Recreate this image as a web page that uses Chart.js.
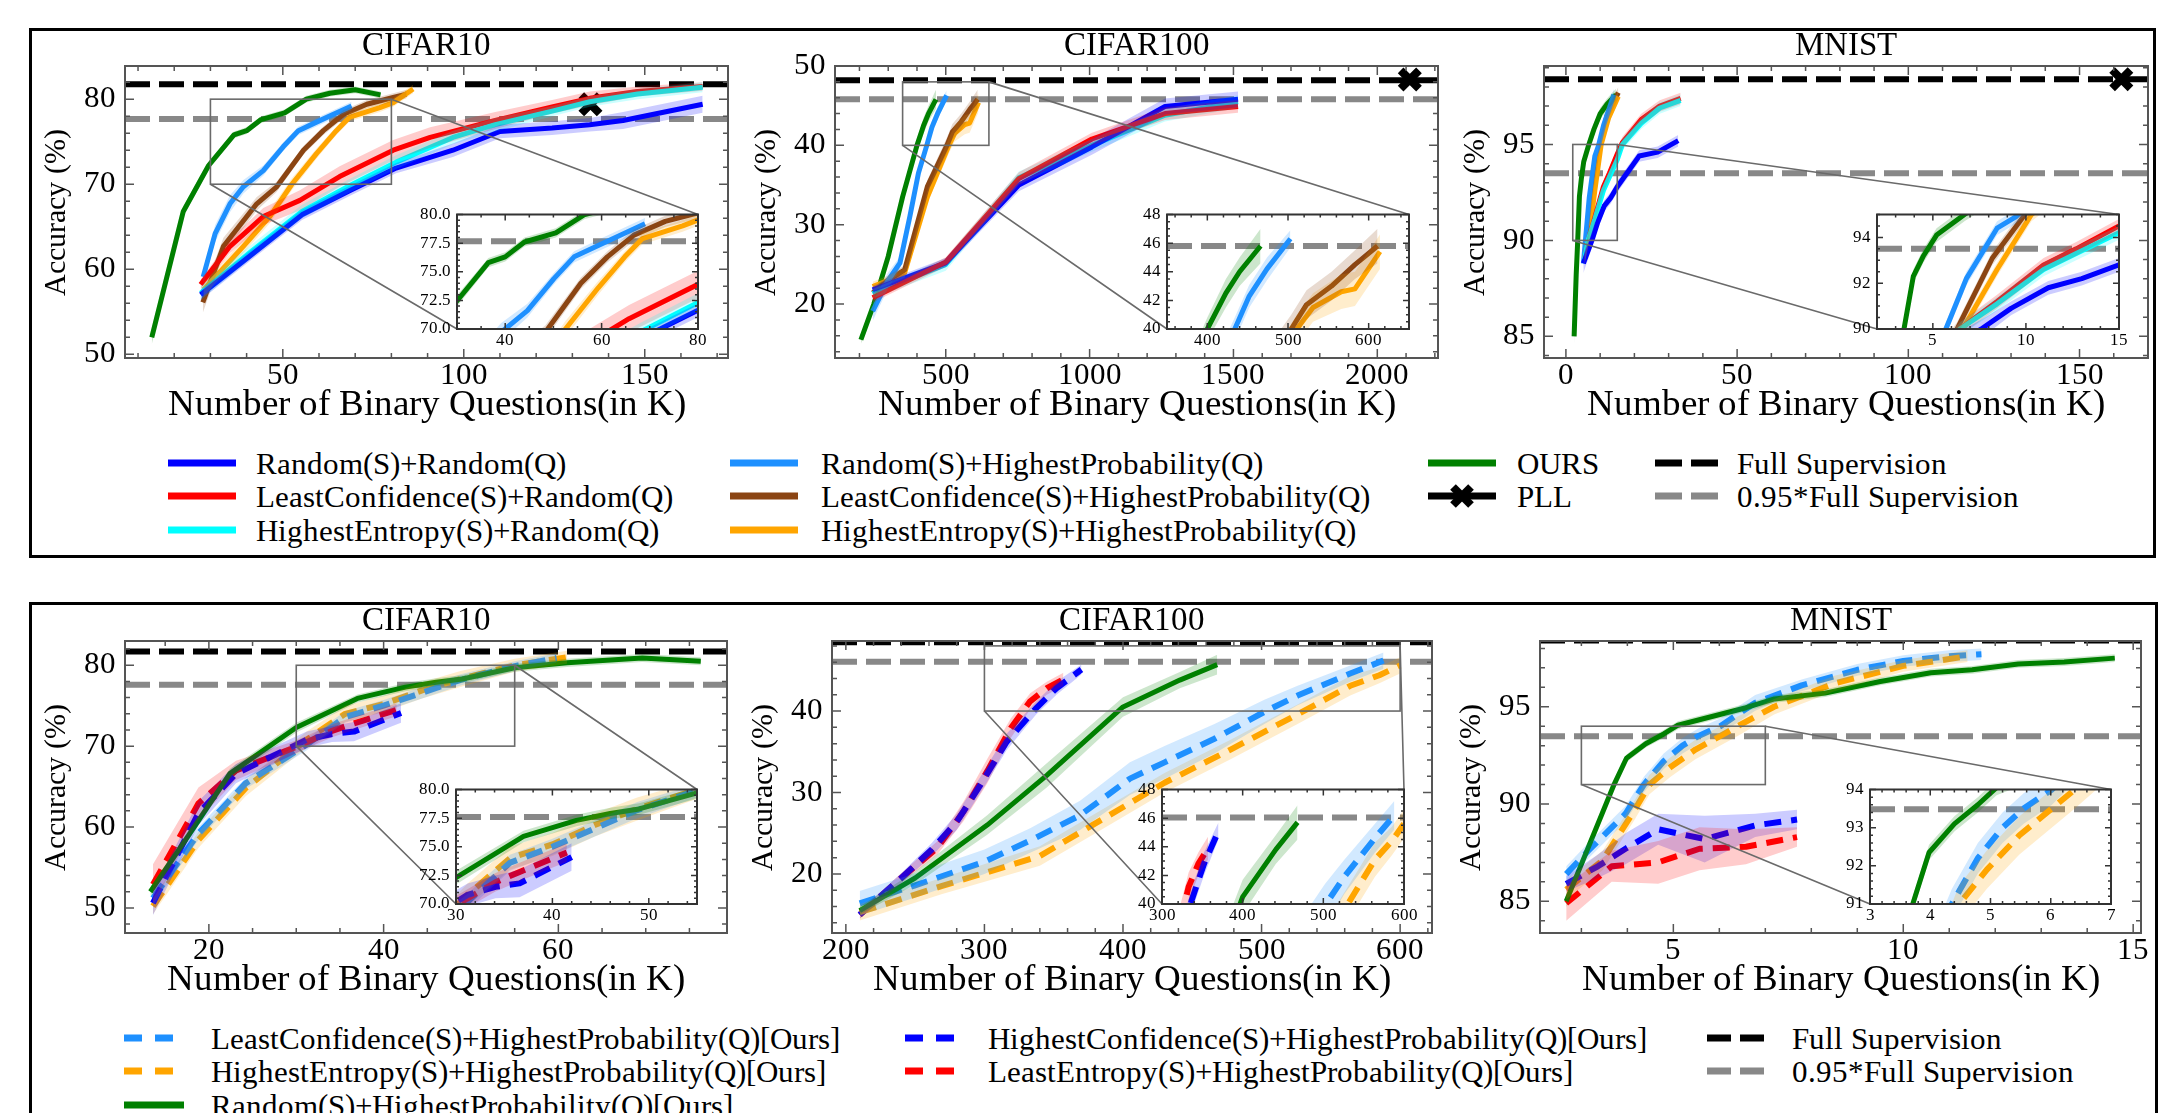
<!DOCTYPE html>
<html>
<head>
<meta charset="utf-8">
<title>Accuracy vs Number of Binary Questions</title>
<script src="https://cdn.jsdelivr.net/npm/chart.js@4.4.1/dist/chart.umd.min.js"></script>
<style>
  @font-face { font-family: 'LSerif'; src: local('Liberation Serif'), local('LiberationSerif'), local('LiberationSerif-Regular'), local('Liberation Serif Regular'); font-weight: normal; font-style: normal; }
  html, body { margin: 0; padding: 0; background: #fff; }
  #root { position: relative; width: 2167px; height: 1113px; overflow: hidden; background: #fff;
          font-family: 'LSerif', 'Liberation Serif', 'Times New Roman', serif; }
  .box { position: absolute; border: 3px solid #000; box-sizing: border-box; }
  canvas { position: absolute; }
  .lg { position: absolute; font-family: 'LSerif', 'Liberation Serif', 'Times New Roman', serif; font-size: 31px; line-height: 1; white-space: nowrap; color: #000; transform: translateY(-50%); }
</style>
</head>
<body>
<div id="root">
  <div class="box" style="left:29px;top:28px;width:2127px;height:530px"></div>
  <div class="box" style="left:29px;top:602px;width:2129px;height:600px"></div>
</div>
<script>
// ======================= DATA =======================
// ---- Top row, CIFAR10 ----
const t1XRange = [6.4, 173], t1YRange = [49.57, 83.9];
const t1XTicks = [50, 100, 150], t1XLabels = ['50', '100', '150'];
const t1YTicks = [50, 60, 70, 80], t1YLabels = ['50', '60', '70', '80'];
const t1ZoomX = [30, 80], t1ZoomY = [70, 80];
const t1ZXTicks = [40, 60, 80], t1ZXLabels = ['40', '60', '80'];
const t1ZYTicks = [70, 72.5, 75, 77.5, 80], t1ZYLabels = ['70.0', '72.5', '75.0', '77.5', '80.0'];
const t1Full = 81.75, t1Full95 = 77.66, t1Pll = [135, 79.4];
const t1_rr_x = [27.3, 41, 55.3, 68.3, 81.3, 97, 110, 124.4, 134.8, 144, 166];
const t1_rr_y = [57.0, 61.6, 66.4, 69.2, 71.9, 74.0, 76.2, 76.6, 77.0, 77.5, 79.4];
const t1_rr_sd = [0.6, 0.6, 0.6, 0.6, 0.6, 0.8, 0.8, 0.8, 0.8, 1.0, 1.0];
const t1_lcr_x = [27.3, 35.4, 44.6, 54.7, 65.7, 80.5, 90.7, 108.7, 124.4, 134.8, 148, 166];
const t1_lcr_y = [58.2, 62.7, 66.2, 68.1, 70.9, 74.0, 75.5, 77.5, 79.1, 80.1, 80.9, 81.5];
const t1_lcr_sd = [0.6, 0.8, 1.0, 1.2, 1.2, 1.2, 1.2, 1.0, 0.8, 0.8, 0.6, 0.5];
const t1_her_x = [27.3, 41, 55.3, 68.3, 81.3, 97, 108.7, 124.4, 134.8, 148, 166];
const t1_her_y = [57.2, 62.0, 66.8, 69.8, 72.6, 75.5, 77.0, 78.6, 79.7, 80.6, 81.4];
const t1_her_sd = [0.8, 0.8, 0.8, 0.8, 0.8, 0.8, 0.8, 0.6, 0.6, 0.6, 0.6];
const t1_rhp_x = [28, 31.3, 35.4, 39.1, 44.6, 50.1, 54.3, 59.3, 69];
const t1_rhp_y = [59.1, 64.2, 67.7, 69.7, 71.6, 74.4, 76.3, 77.3, 79.2];
const t1_rhp_sd = [0.8, 1.0, 1.0, 0.8, 0.6, 0.5, 0.5, 0.5, 0.5];
const t1_lchp_x = [27.9, 33.6, 42.8, 48.3, 55.7, 61.2, 66.7, 73.2, 80.5, 84.2];
const t1_lchp_y = [56.1, 62.7, 67.7, 69.7, 74.0, 76.3, 78.2, 79.4, 80.2, 80.6];
const t1_lchp_sd = [1.2, 1.0, 0.8, 0.6, 0.5, 0.5, 0.5, 0.5, 0.5, 0.5];
const t1_hehp_x = [28.1, 39.1, 46.4, 52.5, 59.3, 64.8, 68.5, 76.8, 80.5, 86];
const t1_hehp_y = [57.6, 62.7, 66.2, 70.0, 73.6, 76.3, 77.9, 79.0, 79.6, 81.2];
const t1_hehp_sd = [0.8, 0.8, 0.8, 0.7, 0.6, 0.5, 0.5, 0.5, 0.5, 0.5];
const t1_ours_x = [13.8, 22.5, 29.5, 36.5, 40, 44, 50.5, 56.5, 63, 70, 77];
const t1_ours_y = [52.0, 66.8, 72.2, 75.8, 76.3, 77.6, 78.4, 80.0, 80.7, 81.1, 80.5];
const t1_ours_sd = [0.8, 0.6, 0.5, 0.4, 0.4, 0.4, 0.4, 0.4, 0.4, 0.4, 0.4];

// ---- Top row, CIFAR100 ----
const t2XRange = [115, 2211], t2YRange = [13.2, 50];
const t2XTicks = [500, 1000, 1500, 2000], t2XLabels = ['500', '1000', '1500', '2000'];
const t2YTicks = [20, 30, 40, 50], t2YLabels = ['20', '30', '40', '50'];
const t2ZoomX = [350, 650], t2ZoomY = [40, 48];
const t2ZXTicks = [400, 500, 600], t2ZXLabels = ['400', '500', '600'];
const t2ZYTicks = [40, 42, 44, 46, 48], t2ZYLabels = ['40', '42', '44', '46', '48'];
const t2Full = 48.2, t2Full95 = 45.8, t2Pll = [2113, 48.3];
const t2_rr_x = [246, 500, 754, 1008, 1262, 1516];
const t2_rr_y = [21.8, 25.2, 35.0, 39.8, 44.9, 45.8];
const t2_rr_sd = [0.5, 0.6, 0.8, 1.0, 1.0, 1.0];
const t2_lcr_x = [246, 500, 754, 1008, 1262, 1516];
const t2_lcr_y = [20.8, 25.3, 35.8, 40.8, 44.0, 44.9];
const t2_lcr_sd = [0.6, 0.6, 0.8, 0.8, 0.8, 0.8];
const t2_her_x = [246, 500, 754, 1008, 1262, 1516];
const t2_her_y = [21.3, 25.0, 35.9, 40.0, 43.8, 45.5];
const t2_her_sd = [0.6, 0.8, 0.8, 0.8, 0.8, 0.8];
const t2_rhp_x = [246, 300, 341, 375, 405, 434, 452, 474, 503];
const t2_rhp_y = [19.1, 23.0, 25.2, 31.0, 36.5, 40.0, 42.3, 44.2, 46.3];
const t2_rhp_sd = [1.2, 1.0, 0.8, 0.8, 0.8, 0.8, 0.8, 0.8, 0.6];
const t2_lchp_x = [246, 300, 357, 436, 504, 523, 554, 583, 611];
const t2_lchp_y = [21.4, 23.0, 24.3, 34.8, 40.0, 41.7, 43.0, 44.5, 45.8];
const t2_lchp_sd = [0.6, 0.6, 0.6, 0.8, 1.0, 1.0, 1.0, 1.0, 1.2];
const t2_hehp_x = [246, 300, 357, 436, 511, 531, 566, 583, 614];
const t2_hehp_y = [22.2, 23.0, 23.9, 33.5, 40.0, 41.5, 42.6, 42.8, 45.4];
const t2_hehp_sd = [0.6, 0.6, 0.6, 0.8, 1.0, 1.0, 1.2, 1.2, 1.2];
const t2_ours_x = [205, 250, 300, 350, 400, 423, 440, 466];
const t2_ours_y = [15.5, 20.0, 26.0, 33.5, 40.0, 42.5, 44.0, 45.8];
const t2_ours_sd = [0.5, 0.6, 0.8, 0.8, 0.8, 1.0, 1.0, 1.2];

// ---- Top row, MNIST ----
const t3XRange = [-6.4, 170], t3YRange = [83.87, 99.09];
const t3XTicks = [0, 50, 100, 150], t3XLabels = ['0', '50', '100', '150'];
const t3YTicks = [85, 90, 95], t3YLabels = ['85', '90', '95'];
const t3ZoomX = [2, 15], t3ZoomY = [90, 95];
const t3ZXTicks = [5, 10, 15], t3ZXLabels = ['5', '10', '15'];
const t3ZYTicks = [90, 92, 94], t3ZYLabels = ['90', '92', '94'];
const t3Full = 98.4, t3Full95 = 93.5, t3Pll = [162.2, 98.4];
const t3_rr_x = [5.1, 7.6, 9.2, 11.2, 13, 15, 21.4, 26.8, 32.8];
const t3_rr_y = [88.8, 90.0, 90.9, 91.8, 92.2, 92.8, 94.4, 94.6, 95.2];
const t3_rr_sd = [0.5, 0.4, 0.3, 0.3, 0.3, 0.3, 0.3, 0.3, 0.3];
const t3_lcr_x = [5.4, 6.45, 8.45, 10.95, 12.7, 15, 16.5, 22, 27.4, 33.5];
const t3_lcr_y = [89.0, 90.0, 91.2, 92.8, 93.5, 94.5, 95.1, 96.3, 97.0, 97.4];
const t3_lcr_sd = [0.3, 0.3, 0.3, 0.3, 0.3, 0.3, 0.3, 0.3, 0.3, 0.3];
const t3_her_x = [5.4, 6.45, 8.45, 10.95, 12.7, 15, 16.5, 22, 27.4, 33.5];
const t3_her_y = [89.0, 90.0, 91.1, 92.6, 93.3, 94.2, 95.0, 96.1, 96.9, 97.3];
const t3_her_sd = [0.3, 0.3, 0.3, 0.3, 0.3, 0.3, 0.3, 0.3, 0.3, 0.3];
const t3_rhp_x = [5.1, 5.7, 6.8, 8.45, 9.45, 11, 14];
const t3_rhp_y = [88.8, 90.0, 92.2, 94.4, 94.9, 96.0, 97.6];
const t3_rhp_sd = [0.3, 0.3, 0.3, 0.3, 0.3, 0.3, 0.3];
const t3_lchp_x = [5.4, 6.3, 8.2, 9.95, 12, 15.3];
const t3_lchp_y = [89.0, 90.0, 93.1, 95.0, 96.5, 97.7];
const t3_lchp_sd = [0.3, 0.3, 0.3, 0.3, 0.3, 0.3];
const t3_hehp_x = [5.4, 6.6, 8.45, 10.3, 12.5, 15.3];
const t3_hehp_y = [89.0, 90.0, 92.6, 95.0, 96.4, 97.5];
const t3_hehp_sd = [0.3, 0.3, 0.3, 0.3, 0.3, 0.3];
const t3_ours_x = [2.4, 3.0, 3.45, 3.95, 4.5, 5.2, 6.7, 8.2, 10, 12, 14.6];
const t3_ours_y = [85.0, 88.2, 90.0, 92.3, 93.2, 94.1, 95.0, 95.8, 96.6, 97.1, 97.6];
const t3_ours_sd = [0.4, 0.3, 0.3, 0.3, 0.3, 0.3, 0.3, 0.3, 0.3, 0.3, 0.3];

// ---- Bottom row, CIFAR10 ----
const b1XRange = [10.4, 79.3], b1YRange = [46.9, 83.0];
const b1XTicks = [20, 40, 60], b1XLabels = ['20', '40', '60'];
const b1YTicks = [50, 60, 70, 80], b1YLabels = ['50', '60', '70', '80'];
const b1ZoomX = [30, 55], b1ZoomY = [70, 80];
const b1ZXTicks = [30, 40, 50], b1ZXLabels = ['30', '40', '50'];
const b1ZYTicks = [70, 72.5, 75, 77.5, 80], b1ZYLabels = ['70.0', '72.5', '75.0', '77.5', '80.0'];
const b1Full = 81.7, b1Full95 = 77.6;
const b1_lchp_x = [13.6, 18.8, 24.2, 31.2, 35.6, 40, 44.4, 48.8, 55, 59.8];
const b1_lchp_y = [51.2, 59.2, 65.4, 70.2, 73.6, 75.0, 76.6, 78.2, 79.9, 80.9];
const b1_lchp_sd = [0.8, 0.8, 0.7, 0.7, 0.7, 0.7, 0.7, 0.7, 0.6, 0.6];
const b1_hehp_x = [13.6, 18.8, 24.2, 31.2, 35.6, 40, 44.4, 48.8, 55, 61];
const b1_hehp_y = [50.2, 58.4, 64.8, 70.8, 74.0, 75.2, 76.9, 78.3, 80.0, 81.0];
const b1_hehp_sd = [1.0, 1.0, 1.0, 1.0, 1.0, 1.0, 1.0, 1.0, 0.8, 0.8];
const b1_ours_x = [13.3, 17.7, 22.4, 30, 37, 42.5, 46, 49, 55, 61, 69.6, 76.3];
const b1_ours_y = [52.0, 59.0, 66.6, 72.3, 75.9, 77.3, 77.9, 78.3, 79.7, 80.3, 80.9, 80.5];
const b1_ours_sd = [0.6, 0.6, 0.6, 0.6, 0.5, 0.5, 0.5, 0.5, 0.5, 0.5, 0.5, 0.5];
const b1_hchp_x = [13.6, 18.8, 23.1, 31.2, 34.1, 36.6, 42];
const b1_hchp_y = [50.6, 61.7, 66.6, 70.8, 71.5, 71.8, 74.1];
const b1_hchp_sd = [1.5, 1.5, 1.2, 1.0, 1.0, 1.2, 1.2];
const b1_lehp_x = [13.6, 18.8, 23.1, 30.2, 34.1, 36.6, 41.5];
const b1_lehp_y = [52.9, 62.9, 67.0, 70.0, 71.9, 72.8, 74.5];
const b1_lehp_sd = [2.5, 2.0, 1.2, 0.8, 0.8, 0.8, 0.8];

// ---- Bottom row, CIFAR100 ----
const b2XRange = [190, 623], b2YRange = [12.75, 48.6];
const b2XTicks = [200, 300, 400, 500, 600], b2XLabels = ['200', '300', '400', '500', '600'];
const b2YTicks = [20, 30, 40], b2YLabels = ['20', '30', '40'];
const b2ZoomX = [300, 600], b2ZoomY = [40, 48];
const b2ZXTicks = [300, 400, 500, 600], b2ZXLabels = ['300', '400', '500', '600'];
const b2ZYTicks = [40, 42, 44, 46, 48], b2ZYLabels = ['40', '42', '44', '46', '48'];
const b2Full = 48.45, b2Full95 = 46.05;
const b2_lchp_x = [210, 250, 300, 333, 369, 405, 430, 466, 502, 526, 564, 588];
const b2_lchp_y = [16.4, 18.6, 21.5, 24.1, 27.2, 31.7, 33.7, 36.6, 39.9, 41.9, 44.6, 46.2];
const b2_lchp_sd = [1.5, 1.5, 1.5, 1.5, 1.8, 2.0, 2.0, 1.8, 1.5, 1.2, 1.0, 1.0];
const b2_hehp_x = [210, 269, 340, 377, 430, 478, 526, 564, 585, 600];
const b2_hehp_y = [15.3, 18.5, 22.2, 25.9, 31.2, 35.3, 39.6, 43.1, 44.4, 45.6];
const b2_hehp_sd = [1.0, 1.0, 1.2, 1.2, 1.2, 1.2, 1.2, 1.2, 1.0, 1.0];
const b2_ours_x = [210, 250, 302, 345, 400, 441, 468];
const b2_ours_y = [15.5, 19.5, 26.0, 32.1, 40.5, 43.8, 45.7];
const b2_ours_sd = [0.5, 0.8, 1.2, 1.5, 1.2, 1.0, 1.2];
const b2_hchp_x = [210, 240, 262, 280, 297, 316, 337, 352, 370];
const b2_hchp_y = [15.0, 19.5, 23.0, 26.4, 30.9, 36.2, 40.3, 42.8, 45.1];
const b2_hchp_sd = [0.5, 0.6, 0.8, 1.0, 1.0, 1.0, 0.8, 0.8, 0.6];
const b2_lehp_x = [210, 240, 266, 285, 302, 319, 333, 345, 357];
const b2_lehp_y = [15.0, 19.5, 23.2, 27.7, 32.6, 37.9, 41.2, 42.8, 43.9];
const b2_lehp_sd = [0.5, 0.6, 0.8, 1.2, 1.5, 1.2, 1.0, 0.8, 0.8];

// ---- Bottom row, MNIST ----
const b3XRange = [2.1, 15.17], b3YRange = [83.37, 98.38];
const b3XTicks = [5, 10, 15], b3XLabels = ['5', '10', '15'];
const b3YTicks = [85, 90, 95], b3YLabels = ['85', '90', '95'];
const b3ZoomX = [3, 7], b3ZoomY = [91, 94];
const b3ZXTicks = [3, 4, 5, 6, 7], b3ZXLabels = ['3', '4', '5', '6', '7'];
const b3ZYTicks = [91, 92, 93, 94], b3ZYLabels = ['91', '92', '93', '94'];
const b3Full = 98.4, b3Full95 = 93.48;
const b3_lchp_x = [2.67, 3.15, 3.96, 4.36, 4.79, 5.2, 5.55, 6.02, 6.78, 7.79, 9, 10, 11, 11.7];
const b3_lchp_y = [86.4, 87.6, 89.5, 91.0, 92.2, 93.0, 93.5, 94.0, 95.2, 96.1, 96.9, 97.35, 97.6, 97.7];
const b3_lchp_sd = [0.4, 0.4, 0.4, 0.4, 0.4, 0.4, 0.4, 0.4, 0.4, 0.3, 0.3, 0.3, 0.3, 0.3];
const b3_hehp_x = [2.67, 3.46, 4.16, 4.48, 4.94, 5.48, 6.4, 7.19, 8.5, 10, 11.4];
const b3_hehp_y = [85.6, 87.1, 89.7, 91.0, 91.9, 92.8, 94.0, 95.0, 96.2, 97.1, 97.6];
const b3_hehp_sd = [0.5, 0.5, 0.5, 0.5, 0.5, 0.5, 0.5, 0.4, 0.4, 0.3, 0.3];
const b3_ours_x = [2.67, 3.71, 3.98, 4.4, 4.79, 5.1, 6.58, 7.2, 8.3, 9.5, 10.6, 11.5, 12.5, 13.5, 14.6];
const b3_ours_y = [85.0, 91.0, 92.35, 93.1, 93.6, 94.05, 94.95, 95.4, 95.7, 96.3, 96.75, 96.9, 97.2, 97.3, 97.5];
const b3_ours_sd = [0.3, 0.2, 0.2, 0.2, 0.2, 0.2, 0.2, 0.2, 0.2, 0.2, 0.2, 0.2, 0.2, 0.2, 0.2];
const b3_hchp_x = [2.67, 3.36, 3.96, 4.67, 5.68, 6.78, 7.69];
const b3_hchp_y = [85.9, 86.8, 87.7, 88.7, 88.2, 88.9, 89.2];
const b3_hchp_sd = [0.4, 0.6, 0.8, 0.8, 1.2, 0.6, 0.5];
const b3_lehp_x = [2.67, 3.66, 4.67, 5.57, 6.58, 7.69];
const b3_lehp_y = [84.9, 86.8, 87.0, 87.7, 87.8, 88.3];
const b3_lehp_sd = [0.9, 0.8, 1.1, 1.1, 0.9, 0.5];

// ---- Legends ----
const topLegendLabels = [
  ['Random(S)+Random(Q)', 'LeastConfidence(S)+Random(Q)', 'HighestEntropy(S)+Random(Q)'],
  ['Random(S)+HighestProbability(Q)', 'LeastConfidence(S)+HighestProbability(Q)', 'HighestEntropy(S)+HighestProbability(Q)'],
  ['OURS', 'PLL'],
  ['Full Supervision', '0.95*Full Supervision']
];
const bottomLegendLabels = [
  ['LeastConfidence(S)+HighestProbability(Q)[Ours]', 'HighestEntropy(S)+HighestProbability(Q)[Ours]', 'Random(S)+HighestProbability(Q)[Ours]'],
  ['HighestConfidence(S)+HighestProbability(Q)[Ours]', 'LeastEntropy(S)+HighestProbability(Q)[Ours]'],
  ['Full Supervision', '0.95*Full Supervision']
];

// ======================= STYLE / LAYOUT =======================
const FONT = "'LSerif', 'Liberation Serif', 'Times New Roman', serif";
Chart.defaults.font.family = FONT;
Chart.defaults.font.weight = 'normal';
Chart.defaults.color = '#000';
const COL = {blue: '#0000FF', red: '#FF0000', cyan: '#00FFFF', dodger: '#1E90FF', brown: '#8B4513',
             orange: '#FFA500', green: '#008000', black: '#000000', gray: '#888888'};
const REF_DASH = [25, 9];
const SER_DASH = [17, 10];
const root = document.getElementById('root');
const CHARTS = [];

function S(x, y, sd, color, dashed) { return {x, y, sd, color, dashed: !!dashed}; }
function rgba(hex, a) {
  const n = parseInt(hex.slice(1), 16);
  return `rgba(${(n >> 16) & 255},${(n >> 8) & 255},${n & 255},${a})`;
}

const PANELS = [
  { title: 'CIFAR10', plot: {l: 125, r: 729, t: 66, b: 358}, inset: {l: 457, r: 698, t: 212, b: 329},
    xr: t1XRange, yr: t1YRange, xt: t1XTicks, xl: t1XLabels, yt: t1YTicks, yl: t1YLabels,
    zx: t1ZoomX, zy: t1ZoomY, zxt: t1ZXTicks, zxl: t1ZXLabels, zyt: t1ZYTicks, zyl: t1ZYLabels,
    full: t1Full, full95: t1Full95, pll: t1Pll,
    series: [S(t1_rr_x, t1_rr_y, t1_rr_sd, COL.blue), S(t1_her_x, t1_her_y, t1_her_sd, COL.cyan),
             S(t1_lcr_x, t1_lcr_y, t1_lcr_sd, COL.red), S(t1_rhp_x, t1_rhp_y, t1_rhp_sd, COL.dodger),
             S(t1_hehp_x, t1_hehp_y, t1_hehp_sd, COL.orange), S(t1_lchp_x, t1_lchp_y, t1_lchp_sd, COL.brown),
             S(t1_ours_x, t1_ours_y, t1_ours_sd, COL.green)] },
  { title: 'CIFAR100', plot: {l: 835, r: 1439, t: 66, b: 358}, inset: {l: 1167, r: 1409, t: 212, b: 329},
    xr: t2XRange, yr: t2YRange, xt: t2XTicks, xl: t2XLabels, yt: t2YTicks, yl: t2YLabels,
    zx: t2ZoomX, zy: t2ZoomY, zxt: t2ZXTicks, zxl: t2ZXLabels, zyt: t2ZYTicks, zyl: t2ZYLabels,
    full: t2Full, full95: t2Full95, pll: t2Pll,
    series: [S(t2_lcr_x, t2_lcr_y, t2_lcr_sd, COL.red), S(t2_rr_x, t2_rr_y, t2_rr_sd, COL.blue),
             S(t2_her_x, t2_her_y, t2_her_sd, COL.cyan), S(t2_rhp_x, t2_rhp_y, t2_rhp_sd, COL.dodger),
             S(t2_lchp_x, t2_lchp_y, t2_lchp_sd, COL.brown), S(t2_hehp_x, t2_hehp_y, t2_hehp_sd, COL.orange),
             S(t2_ours_x, t2_ours_y, t2_ours_sd, COL.green)] },
  { title: 'MNIST', plot: {l: 1544, r: 2149, t: 66, b: 358}, inset: {l: 1877, r: 2119, t: 212, b: 329},
    xr: t3XRange, yr: t3YRange, xt: t3XTicks, xl: t3XLabels, yt: t3YTicks, yl: t3YLabels,
    zx: t3ZoomX, zy: t3ZoomY, zxt: t3ZXTicks, zxl: t3ZXLabels, zyt: t3ZYTicks, zyl: t3ZYLabels,
    full: t3Full, full95: t3Full95, pll: t3Pll,
    series: [S(t3_rr_x, t3_rr_y, t3_rr_sd, COL.blue), S(t3_her_x, t3_her_y, t3_her_sd, COL.cyan),
             S(t3_lcr_x, t3_lcr_y, t3_lcr_sd, COL.red), S(t3_rhp_x, t3_rhp_y, t3_rhp_sd, COL.dodger),
             S(t3_hehp_x, t3_hehp_y, t3_hehp_sd, COL.orange), S(t3_lchp_x, t3_lchp_y, t3_lchp_sd, COL.brown),
             S(t3_ours_x, t3_ours_y, t3_ours_sd, COL.green)] },
  { title: 'CIFAR10', plot: {l: 125, r: 727, t: 641, b: 933}, inset: {l: 456, r: 697, t: 787, b: 904},
    xr: b1XRange, yr: b1YRange, xt: b1XTicks, xl: b1XLabels, yt: b1YTicks, yl: b1YLabels,
    zx: b1ZoomX, zy: b1ZoomY, zxt: b1ZXTicks, zxl: b1ZXLabels, zyt: b1ZYTicks, zyl: b1ZYLabels,
    full: b1Full, full95: b1Full95, pll: null,
    series: [S(b1_ours_x, b1_ours_y, b1_ours_sd, COL.green), S(b1_hchp_x, b1_hchp_y, b1_hchp_sd, COL.blue, true),
             S(b1_lehp_x, b1_lehp_y, b1_lehp_sd, COL.red, true), S(b1_lchp_x, b1_lchp_y, b1_lchp_sd, COL.dodger, true),
             S(b1_hehp_x, b1_hehp_y, b1_hehp_sd, COL.orange, true)] },
  { title: 'CIFAR100', plot: {l: 832, r: 1432, t: 641, b: 933}, inset: {l: 1162, r: 1404, t: 787, b: 904},
    xr: b2XRange, yr: b2YRange, xt: b2XTicks, xl: b2XLabels, yt: b2YTicks, yl: b2YLabels,
    zx: b2ZoomX, zy: b2ZoomY, zxt: b2ZXTicks, zxl: b2ZXLabels, zyt: b2ZYTicks, zyl: b2ZYLabels,
    full: b2Full, full95: b2Full95, pll: null,
    series: [S(b2_ours_x, b2_ours_y, b2_ours_sd, COL.green), S(b2_lchp_x, b2_lchp_y, b2_lchp_sd, COL.dodger, true),
             S(b2_hehp_x, b2_hehp_y, b2_hehp_sd, COL.orange, true), S(b2_hchp_x, b2_hchp_y, b2_hchp_sd, COL.blue, true),
             S(b2_lehp_x, b2_lehp_y, b2_lehp_sd, COL.red, true)] },
  { title: 'MNIST', plot: {l: 1540, r: 2141, t: 641, b: 933}, inset: {l: 1870, r: 2111, t: 787, b: 904},
    xr: b3XRange, yr: b3YRange, xt: b3XTicks, xl: b3XLabels, yt: b3YTicks, yl: b3YLabels,
    zx: b3ZoomX, zy: b3ZoomY, zxt: b3ZXTicks, zxl: b3ZXLabels, zyt: b3ZYTicks, zyl: b3ZYLabels,
    full: b3Full, full95: b3Full95, pll: null,
    series: [S(b3_ours_x, b3_ours_y, b3_ours_sd, COL.green), S(b3_lehp_x, b3_lehp_y, b3_lehp_sd, COL.red, true),
             S(b3_hchp_x, b3_hchp_y, b3_hchp_sd, COL.blue, true), S(b3_hehp_x, b3_hehp_y, b3_hehp_sd, COL.orange, true),
             S(b3_lchp_x, b3_lchp_y, b3_lchp_sd, COL.dodger, true)] }
];

// ======================= PLUGIN =======================
function minorStepFor(step) {
  const e = Math.pow(10, Math.floor(Math.log10(step)));
  const m = step / e;
  const five = [1, 2.5, 5, 10].some(v => Math.abs(v - m) < 1e-6);
  return step / (five ? 5 : 4);
}
const framePlugin = {
  id: 'frame',
  beforeDraw(chart, args, o) {
    if (!o.bg) return;
    const a = chart.chartArea, ctx = chart.ctx;
    ctx.save(); ctx.fillStyle = '#fff';
    ctx.fillRect(a.left, a.top, a.right - a.left, a.bottom - a.top);
    ctx.restore();
  },
  afterDatasetsDraw(chart, args, o) {
    const ctx = chart.ctx, a = chart.chartArea, x = chart.scales.x, y = chart.scales.y;
    ctx.save();
    ctx.strokeStyle = o.color; ctx.lineWidth = o.lw;
    ctx.strokeRect(a.left, a.top, a.right - a.left, a.bottom - a.top);
    ctx.lineWidth = 1.5;
    const drawTicks = (scale, horizontal) => {
      const vals = scale.ticks.map(t => t.value);
      const step = vals[1] - vals[0];
      const ms = minorStepFor(step);
      for (let k = Math.ceil(scale.min / ms - 1e-9); k * ms <= scale.max + 1e-9; k++) {
        const v = k * ms;
        const major = Math.abs(v / step - Math.round(v / step)) < 1e-6;
        const len = major ? o.major : o.minor;
        const p = scale.getPixelForValue(v);
        ctx.beginPath();
        if (horizontal) {
          ctx.moveTo(p, a.bottom); ctx.lineTo(p, a.bottom - len);
          ctx.moveTo(p, a.top); ctx.lineTo(p, a.top + len);
        } else {
          ctx.moveTo(a.left, p); ctx.lineTo(a.left + len, p);
          ctx.moveTo(a.right, p); ctx.lineTo(a.right - len, p);
        }
        ctx.stroke();
      }
    };
    drawTicks(x, true); drawTicks(y, false);
    if (o.zoom) {
      const z = o.zoom;
      const x0 = x.getPixelForValue(z.x[0]), x1 = x.getPixelForValue(z.x[1]);
      const y0 = y.getPixelForValue(z.y[0]), y1 = y.getPixelForValue(z.y[1]);
      ctx.strokeStyle = '#6a6a6a'; ctx.lineWidth = 1.6;
      ctx.strokeRect(x0, y1, x1 - x0, y0 - y1);
      ctx.beginPath();
      ctx.moveTo(x1, y1); ctx.lineTo(z.box.r - z.off[0], z.box.t - z.off[1]);
      ctx.moveTo(x0, y0); ctx.lineTo(z.box.l - z.off[0], z.box.b - z.off[1]);
      ctx.stroke();
    }
    ctx.restore();
  }
};

// ======================= BUILD =======================
function datasetsFor(p, xr, inset) {
  const ds = [];
  const extra = inset ? {clip: 0} : {};
  p.series.forEach(s => {
    ds.push(Object.assign({data: s.x.map((x, i) => ({x, y: s.y[i] + s.sd[i]})), borderColor: 'rgba(0,0,0,0)',
      borderWidth: 0, pointRadius: 0, backgroundColor: rgba(s.color, 0.2), fill: '+1'}, extra));
    ds.push(Object.assign({data: s.x.map((x, i) => ({x, y: s.y[i] - s.sd[i]})), borderColor: 'rgba(0,0,0,0)',
      borderWidth: 0, pointRadius: 0, fill: false}, extra));
  });
  p.series.forEach(s => ds.push(Object.assign({data: s.x.map((x, i) => ({x, y: s.y[i]})), borderColor: s.color,
    borderWidth: s.dashed ? 6 : 5, borderDash: s.dashed ? SER_DASH : [], pointRadius: 0, fill: false, tension: 0,
    borderCapStyle: 'butt', borderJoinStyle: 'round'}, extra)));
  ds.push(Object.assign({data: [{x: xr[0], y: p.full}, {x: xr[1], y: p.full}], borderColor: COL.black, borderWidth: 6,
    borderDash: REF_DASH, pointRadius: 0, fill: false}, extra));
  ds.push(Object.assign({data: [{x: xr[0], y: p.full95}, {x: xr[1], y: p.full95}], borderColor: COL.gray, borderWidth: 6,
    borderDash: REF_DASH, pointRadius: 0, fill: false}, extra));
  if (p.pll && !inset) {
    ds.push({data: [{x: p.pll[0], y: p.pll[1]}], showLine: false, pointStyle: 'crossRot', pointRadius: 13,
      pointBorderWidth: 8, pointBorderColor: COL.black, pointBackgroundColor: COL.black, borderColor: COL.black, clip: false});
  }
  return ds;
}

function createChart(p, isInset, link) {
  const plot = isInset ? p.inset : p.plot;
  const xr = isInset ? p.zx : p.xr, yr = isInset ? p.zy : p.yr;
  const xt = isInset ? p.zxt : p.xt, xl = isInset ? p.zxl : p.xl;
  const yt = isInset ? p.zyt : p.yt, yl = isInset ? p.zyl : p.yl;
  const WY = isInset ? 46 : 90, HX = isInset ? 28 : 66, PT = isInset ? 12 : 0, PR = isInset ? 24 : 20, TH = isInset ? 0 : 40;
  const cl = plot.l - WY, ct = plot.t - PT - TH;
  const cw = plot.r + PR - cl, ch = plot.b + HX - ct;
  const cv = document.createElement('canvas');
  cv.width = cw; cv.height = ch;
  cv.style.cssText = `position:absolute;left:${cl}px;top:${ct}px;width:${cw}px;height:${ch}px;z-index:${isInset ? 3 : 1}`;
  root.appendChild(cv);
  const tf = isInset ? 17 : 31;
  const frameOpts = {bg: isInset, color: isInset ? '#333' : '#555', lw: 2, major: isInset ? 6 : 9, minor: isInset ? 3 : 5};
  if (link) frameOpts.zoom = {x: p.zx, y: p.zy, box: link, off: [cl, ct]};
  const chart = new Chart(cv, {
    type: 'line',
    data: {datasets: datasetsFor(p, xr, isInset)},
    options: {
      responsive: false, animation: false, devicePixelRatio: 1, events: [],
      layout: {padding: {left: 0, top: PT, right: PR, bottom: 0}},
      plugins: {
        legend: {display: false}, tooltip: {enabled: false},
        title: isInset ? {display: false} : {display: true, text: p.title, fullSize: false, color: '#000',
          font: {family: FONT, size: 33, lineHeight: 1, weight: 'normal'}, padding: {top: 4, bottom: 3}},
        frame: frameOpts
      },
      scales: {
        x: {
          type: 'linear', min: xr[0], max: xr[1],
          grid: {display: false, drawTicks: false}, border: {display: false},
          afterBuildTicks: s => { s.ticks = xt.map(v => ({value: v})); },
          afterFit: s => { s.height = HX; },
          ticks: {autoSkip: false, maxRotation: 0, minRotation: 0, padding: isInset ? 3 : 2, color: '#000',
            font: {family: FONT, size: tf, lineHeight: 1}, callback: (v, i) => xl[i]},
          title: isInset ? {display: false} : {display: true, text: 'Number of Binary Questions(in K)', color: '#000',
            font: {family: FONT, size: 37, lineHeight: 1}, padding: {top: 0, bottom: 0}}
        },
        y: {
          type: 'linear', min: yr[0], max: yr[1],
          grid: {display: false, drawTicks: false}, border: {display: false},
          afterBuildTicks: s => { s.ticks = yt.map(v => ({value: v})); },
          afterFit: s => { s.width = WY; },
          ticks: {autoSkip: false, padding: isInset ? 6 : 9, color: '#000',
            font: {family: FONT, size: tf, lineHeight: 1}, callback: (v, i) => yl[i]},
          title: isInset ? {display: false} : {display: true, text: 'Accuracy (%)', color: '#000',
            font: {family: FONT, size: 30, lineHeight: 1}, padding: {top: 7, bottom: 0}}
        }
      }
    },
    plugins: [framePlugin]
  });
  CHARTS.push(chart);
  const a = chart.chartArea;
  return {l: a.left + cl, r: a.right + cl, t: a.top + ct, b: a.bottom + ct};
}

PANELS.forEach(p => {
  const box = createChart(p, true, null);
  createChart(p, false, box);
});

// ======================= LEGENDS =======================
const NS = 'http://www.w3.org/2000/svg';
function swatch(x, y, w, color, dash, lw, pll) {
  const svg = document.createElementNS(NS, 'svg');
  svg.setAttribute('width', w); svg.setAttribute('height', 40);
  svg.style.cssText = `position:absolute;left:${x}px;top:${y - 20}px;overflow:visible`;
  const line = document.createElementNS(NS, 'line');
  line.setAttribute('x1', 0); line.setAttribute('x2', w); line.setAttribute('y1', 20); line.setAttribute('y2', 20);
  line.setAttribute('stroke', color); line.setAttribute('stroke-width', lw);
  if (dash) line.setAttribute('stroke-dasharray', dash);
  svg.appendChild(line);
  if (pll) {
    const c = w / 2, r = 9;
    [[c - r, 20 - r, c + r, 20 + r], [c - r, 20 + r, c + r, 20 - r]].forEach(q => {
      const l2 = document.createElementNS(NS, 'line');
      l2.setAttribute('x1', q[0]); l2.setAttribute('y1', q[1]); l2.setAttribute('x2', q[2]); l2.setAttribute('y2', q[3]);
      l2.setAttribute('stroke', color); l2.setAttribute('stroke-width', 8);
      svg.appendChild(l2);
    });
  }
  root.appendChild(svg);
}
function text(x, y, t) {
  const d = document.createElement('div');
  d.className = 'lg'; d.style.left = x + 'px'; d.style.top = y + 'px'; d.textContent = t;
  root.appendChild(d);
}
const topCols = [[168, 256], [730, 821], [1428, 1517], [1655, 1737]];
const topRows = [463, 496, 530];
const topStyles = [
  [[COL.blue], [COL.red], [COL.cyan]],
  [[COL.dodger], [COL.brown], [COL.orange]],
  [[COL.green], [COL.black, null, true]],
  [[COL.black, '27 9'], [COL.gray, '27 9']]
];
topLegendLabels.forEach((col, ci) => col.forEach((lab, ri) => {
  const st = topStyles[ci][ri];
  swatch(topCols[ci][0], topRows[ri], 68, st[0], st[1] || null, 7, !!st[2]);
  text(topCols[ci][1], topRows[ri], lab);
}));
const botCols = [[124, 211], [905, 988], [1707, 1792]];
const botRows = [1038, 1071, 1105];
const botStyles = [
  [[COL.dodger, '18 13'], [COL.orange, '18 13'], [COL.green]],
  [[COL.blue, '18 13'], [COL.red, '18 13']],
  [[COL.black, '24 9'], [COL.gray, '24 9']]
];
bottomLegendLabels.forEach((col, ci) => col.forEach((lab, ri) => {
  const st = botStyles[ci][ri];
  swatch(botCols[ci][0], botRows[ri], 60, st[0], st[1] || null, 7, false);
  text(botCols[ci][1], botRows[ri], lab);
}));

// redraw canvases once the serif face is ready
if (document.fonts && document.fonts.load) {
  document.fonts.load("31px 'LSerif'").then(() => CHARTS.forEach(c => c.update())).catch(() => {});
}
</script>
</body>
</html>
